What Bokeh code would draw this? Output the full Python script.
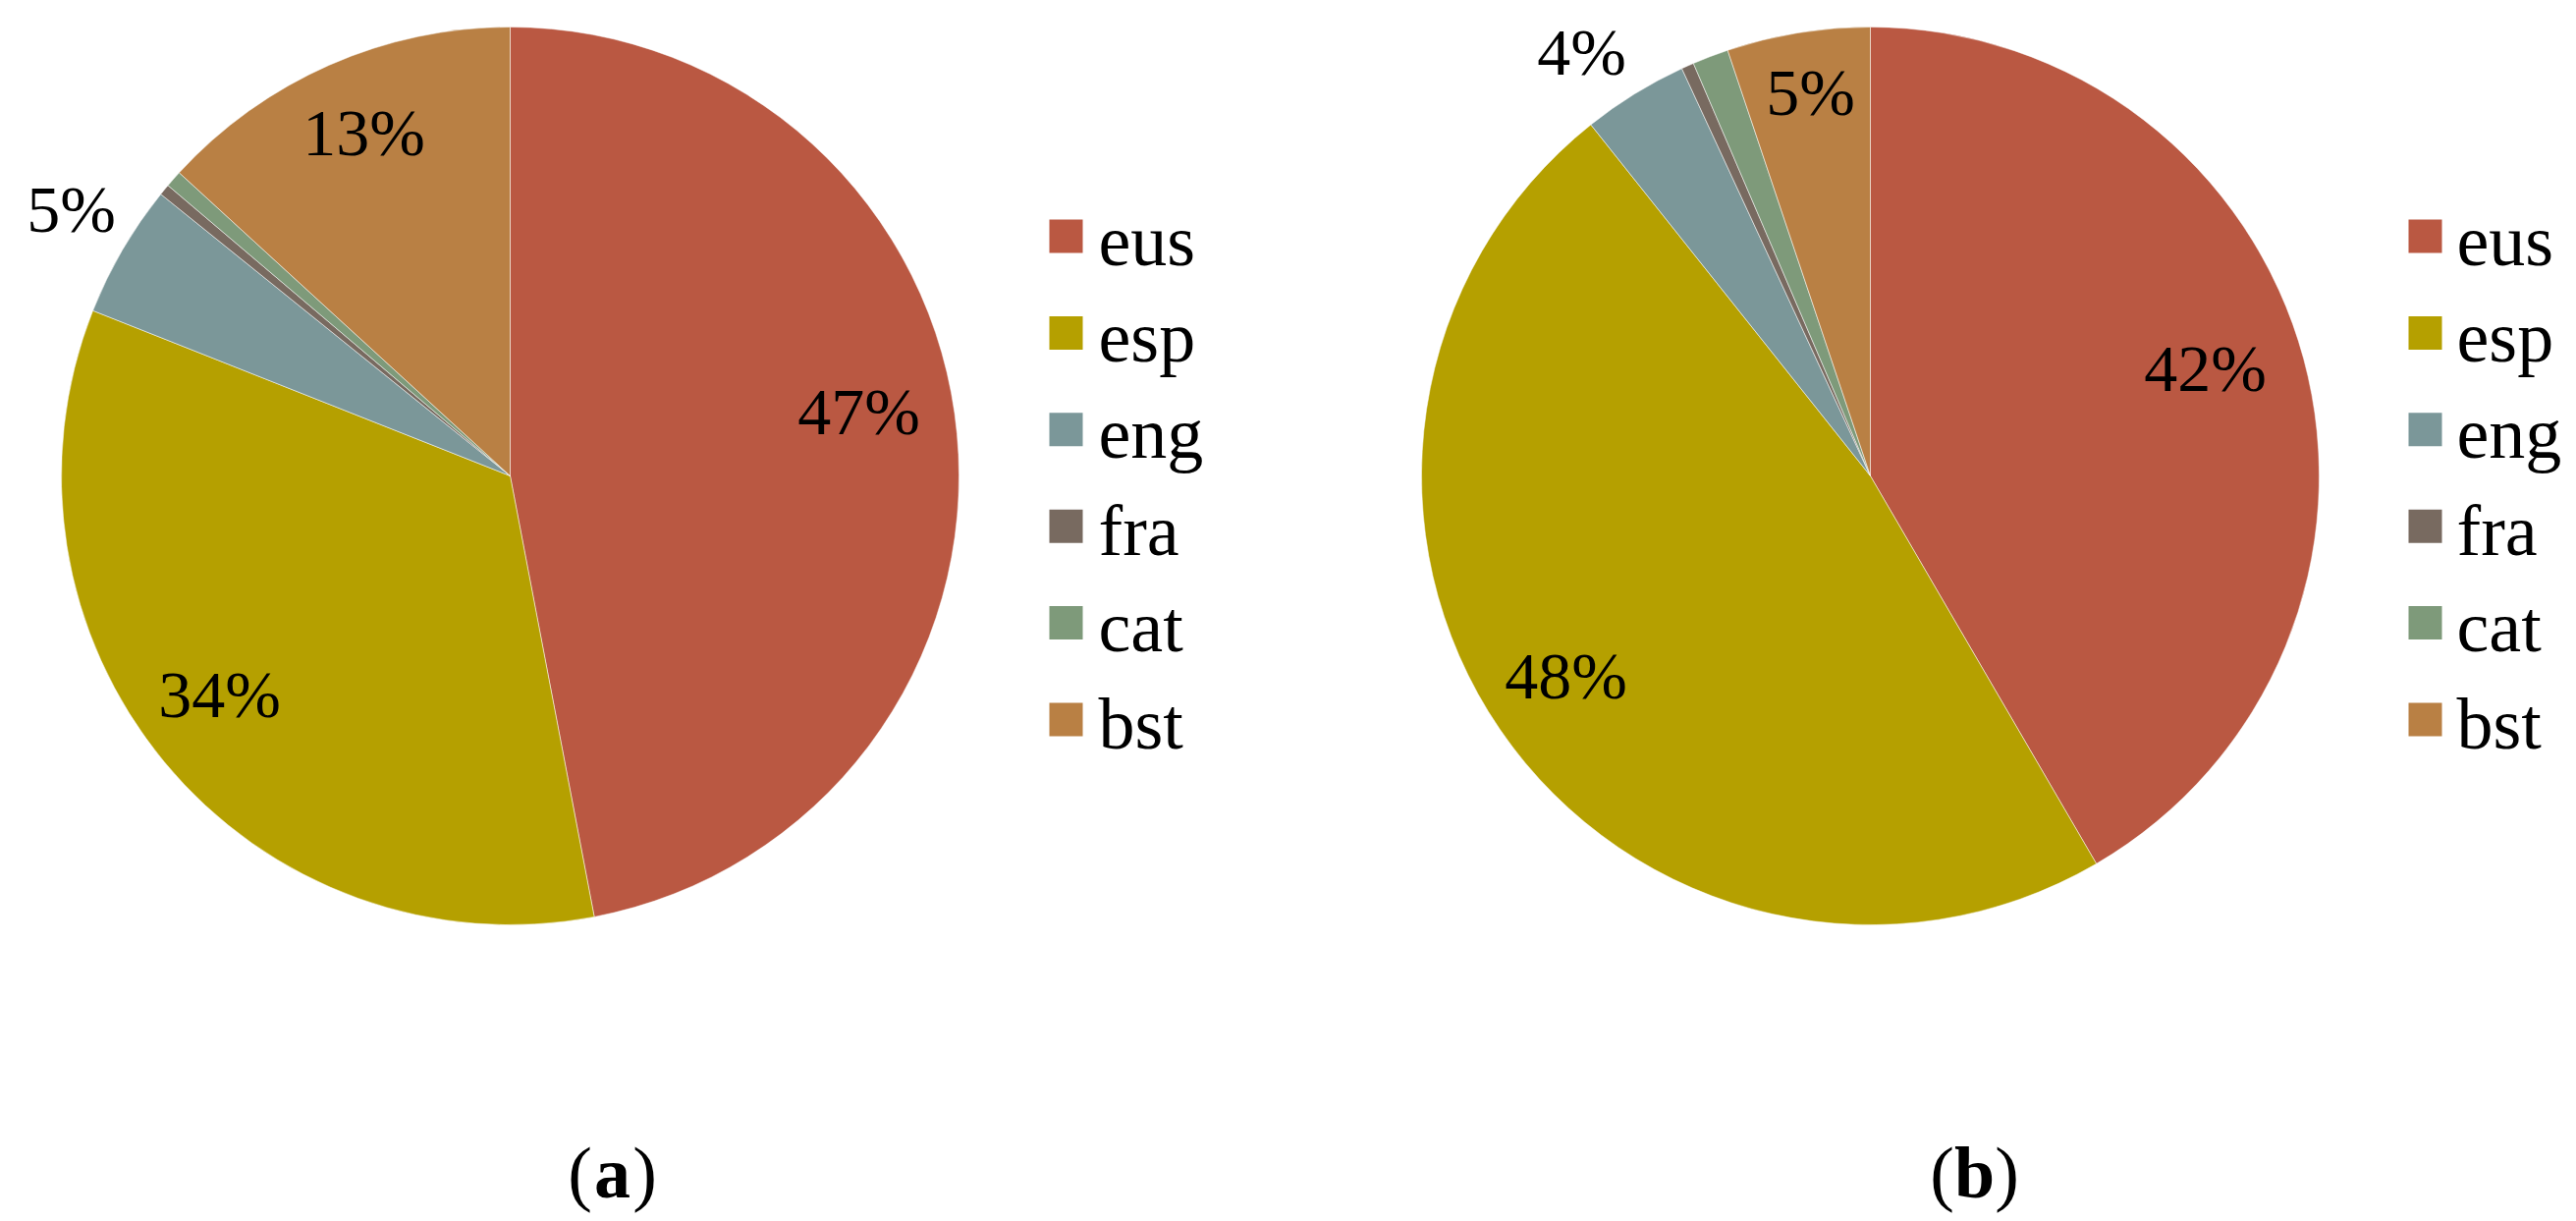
import numpy as np
from bokeh.plotting import figure
from bokeh.models import ColumnDataSource, Range1d
from bokeh.core.properties import value
from bokeh.embed import file_html
from bokeh.resources import INLINE

# ---------------- data ----------------
categories = ["eus", "esp", "eng", "fra", "cat", "bst"]
share_a = [47.0, 34.0, 4.8, 0.4, 0.6, 13.2]
share_b = [41.6, 47.7, 3.8, 0.45, 1.3, 5.15]
captions = ["a", "b"]

# ---------------- style / layout ----------------
palette = ["#BA5842", "#B5A000", "#7B9799", "#786A60", "#7E9A7A", "#B98044"]
FONT = value("Liberation Serif")
W, H = 2623, 1243
RADIUS = 457
centers = [(519, 484), (1904, 484)]           # page pixels (y down)
label_offsets = [
    {0: (355, 66), 1: (-296, -222), 2: (-447, 272), 5: (-149, 350)},
    {0: (341, 110), 1: (-310, -203), 2: (-294, 432), 5: (-61, 391)},
]
legend_x = [1085, 2469]
legend_text_x = [1118, 2501]
legend_y0, legend_dy = 240, 98.4
caption_x = [623, 2010]
caption_base = 1193

def Y(y):
    return H - y

p = figure(width=W, height=H,
           x_range=Range1d(0, W), y_range=Range1d(0, H),
           x_axis_type=None, y_axis_type=None,
           toolbar_location=None, output_backend="svg", min_border=0)
p.grid.visible = False
p.outline_line_color = None
p.background_fill_color = "white"
p.border_fill_color = "white"

for k, shares in enumerate([share_a, share_b]):
    cx, cy = centers[k]
    vals = np.array(shares, dtype=float)
    frac = vals / vals.sum()
    cum = np.concatenate([[0.0], np.cumsum(frac)])
    start = np.pi / 2 - 2 * np.pi * cum[:-1]
    end = np.pi / 2 - 2 * np.pi * cum[1:]
    src = ColumnDataSource(dict(start=start, end=end, color=palette, cat=categories))
    p.wedge(x=cx, y=Y(cy), radius=RADIUS, start_angle="start", end_angle="end",
            direction="clock", fill_color="color", line_color="white",
            line_width=1, line_alpha=0.5, source=src)

    # percentage labels
    lx, ly, lt = [], [], []
    for i, v in enumerate(vals):
        if i in label_offsets[k]:
            dx, dy = label_offsets[k][i]
            lx.append(cx + dx)
            ly.append(Y(cy) + dy)
            lt.append(f"{round(v / vals.sum() * 100):.0f}%")
    p.text(x=lx, y=ly, text=lt, text_font=FONT, text_font_size="68px",
           text_align="center", text_baseline="middle", text_color="black")

    # legend
    ys = [Y(legend_y0 + i * legend_dy) for i in range(len(categories))]
    p.rect(x=[legend_x[k]] * len(categories), y=ys, width=34, height=34,
           fill_color=palette, line_color=None)
    p.text(x=[legend_text_x[k]] * len(categories), y=[yy - 4 for yy in ys],
           text=categories, text_font=FONT, text_font_size="74px",
           text_align="left", text_baseline="middle", text_color="black")

    # caption "(a)" / "(b)"
    fs = 74
    half = 0.28 * fs
    p.text(x=[caption_x[k]], y=[Y(caption_base)], text=[captions[k]],
           text_font=FONT, text_font_size=f"{fs}px", text_font_style="bold",
           text_align="center", text_baseline="alphabetic", text_color="black")
    p.text(x=[caption_x[k] - half], y=[Y(caption_base)], text=["("],
           text_font=FONT, text_font_size=f"{fs}px",
           text_align="right", text_baseline="alphabetic", text_color="black")
    p.text(x=[caption_x[k] + half], y=[Y(caption_base)], text=[")"],
           text_font=FONT, text_font_size=f"{fs}px",
           text_align="left", text_baseline="alphabetic", text_color="black")

open("out.html", "w").write(file_html(p, INLINE))
